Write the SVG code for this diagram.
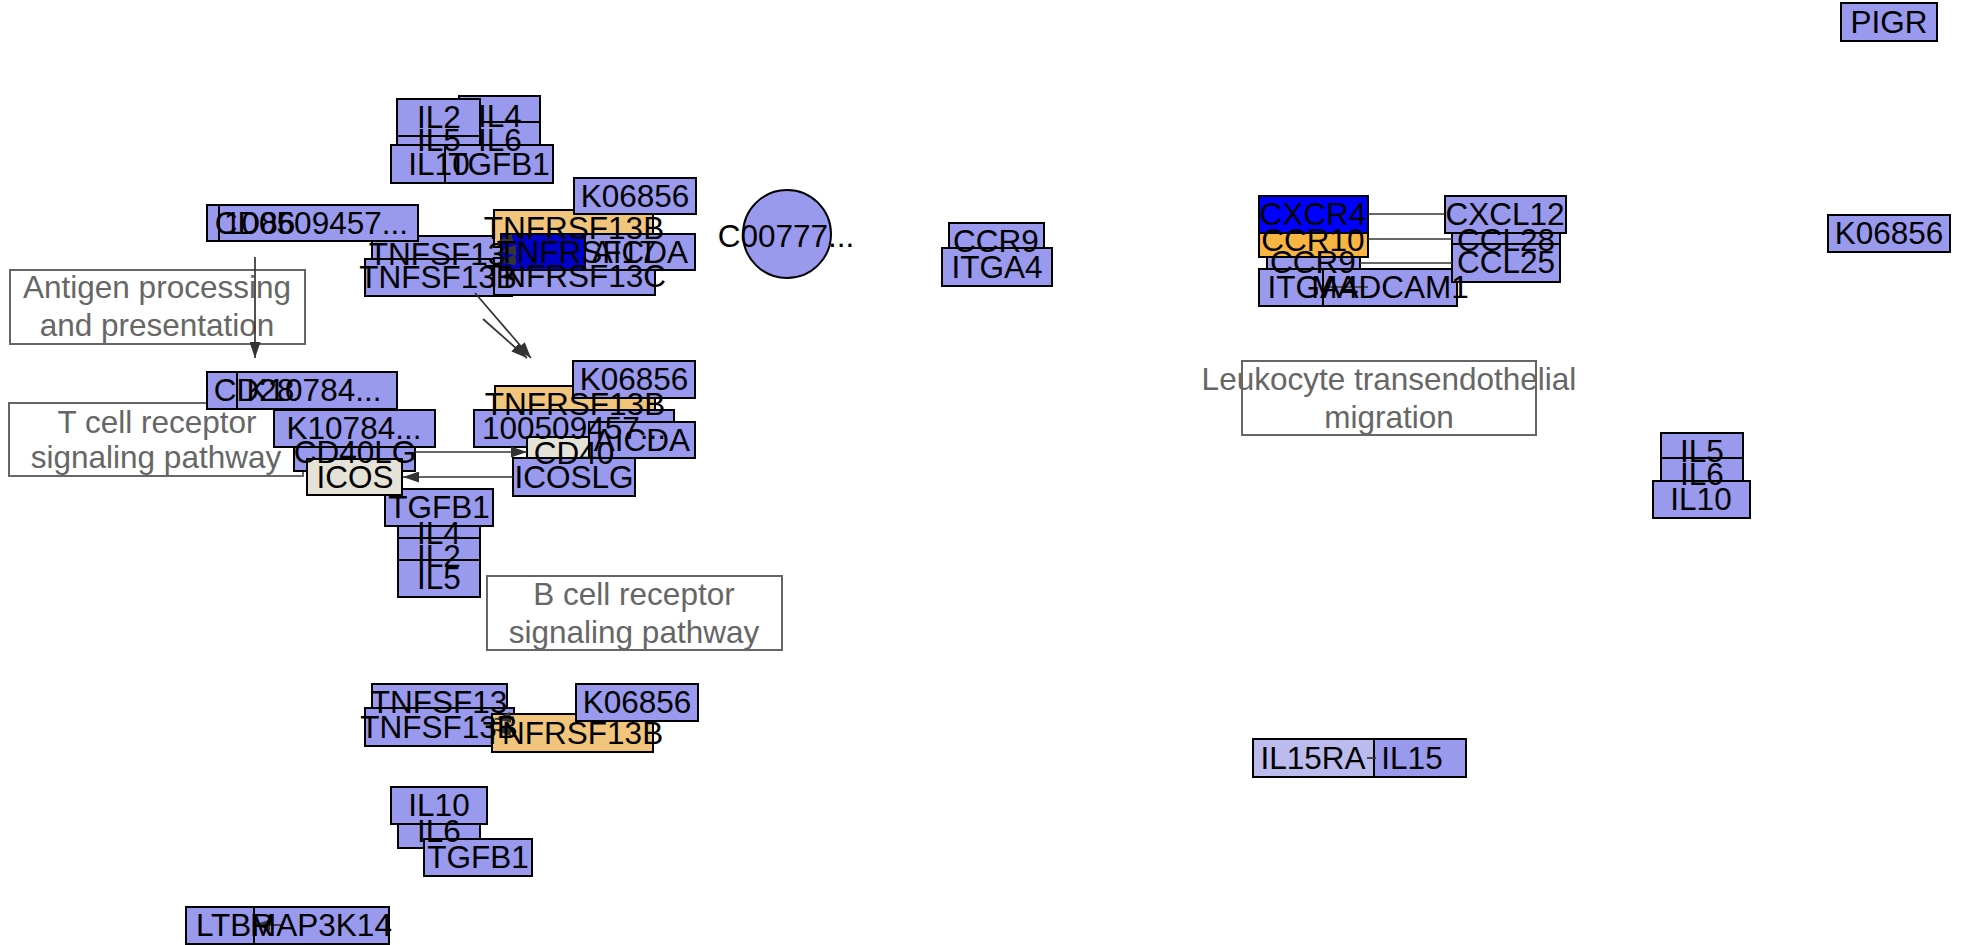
<svg xmlns="http://www.w3.org/2000/svg" width="1963" height="945" viewBox="0 0 1963 945">
<style>
.n{fill:#9999EE;stroke:#000;stroke-width:2}
.o{fill:#F2C57C}
.o2{fill:#F8B542}
.db{fill:#0000C8}
.b{fill:#0000FF}
.g{fill:#E5E2D8}
.lt{fill:#BBBBEE}
.pw{fill:none;stroke:#666;stroke-width:2}
.t{font-family:"Liberation Sans",Arial,sans-serif;font-size:31.5px;text-anchor:middle;fill:#000}
.pt{font-family:"Liberation Sans",Arial,sans-serif;font-size:31.5px;text-anchor:middle;fill:#666}
.e{stroke:#333;stroke-width:1.7;fill:none}
.a{marker-end:url(#arr)}
</style>
<defs>
<marker id="arr" markerUnits="userSpaceOnUse" markerWidth="16" markerHeight="11" refX="16" refY="5.5" orient="auto"><path d="M0,0 L16,5.5 L0,11 Z" fill="#333"/></marker>
</defs>
<rect width="1963" height="945" fill="#fff"/>
<g id="pathways">
<g id="pw-antigen"><rect class="pw" x="10" y="270" width="295" height="74"/><text class="pt" x="157" y="298">Antigen processing</text><text class="pt" x="157" y="336">and presentation</text></g>
<g id="pw-tcell"><rect class="pw" x="9" y="403" width="294" height="73"/><text class="pt" x="157" y="433">T cell receptor</text><text class="pt" x="156" y="468">signaling pathway</text></g>
<g id="pw-bcell"><rect class="pw" x="487" y="576" width="295" height="74"/><text class="pt" x="634" y="605">B cell receptor</text><text class="pt" x="634" y="643">signaling pathway</text></g>
<g id="pw-leuko"><rect class="pw" x="1242" y="361" width="294" height="74"/><text class="pt" x="1389" y="390">Leukocyte transendothelial</text><text class="pt" x="1389" y="428">migration</text></g>
</g>
<g id="nodes">
<g id="n-IL4-a"><rect class="n" x="459" y="96" width="81" height="37"/></g>
<g id="n-IL6-a"><rect class="n" x="459" y="122" width="81" height="37"/></g>
<g id="n-IL5-a"><rect class="n" x="397" y="122" width="83" height="37"/></g>
<g id="n-IL2-a"><rect class="n" x="397" y="99" width="83" height="37"/></g>
<g id="n-IL10-a"><rect class="n" x="391" y="145" width="96" height="38"/></g>
<g id="n-TGFB1-a"><rect class="n" x="445" y="145" width="108" height="38"/></g>
<g id="n-TNFSF13-a"><rect class="n" x="372" y="236" width="130" height="36"/></g>
<g id="n-CD86"><rect class="n" x="207" y="205" width="96" height="36"/></g>
<g id="n-100509457-a"><rect class="n" x="219" y="205" width="199" height="36"/></g>
<g id="n-TNFSF13B-a"><rect class="n" x="365" y="259" width="147" height="37"/></g>
<g id="n-TNFRSF13B-a"><rect class="n o" x="494" y="210" width="159" height="37"/></g>
<g id="n-K06856-a"><rect class="n" x="574" y="178" width="122" height="36"/></g>
<g id="n-TNFRSF13C"><rect class="n" x="494" y="258" width="161" height="37"/></g>
<g id="n-TNFRSF17"><rect class="n db" x="501" y="234" width="152" height="36"/></g>
<g id="n-AICDA-a"><rect class="n" x="585" y="234" width="110" height="36"/></g>
<g id="n-C00777"><circle class="n" cx="787" cy="234" r="44"/></g>
<g id="n-CCR9-a"><rect class="n" x="949" y="223" width="95" height="37"/></g>
<g id="n-ITGA4-a"><rect class="n" x="942" y="248" width="110" height="38"/></g>
<g id="n-CD28"><rect class="n" x="207" y="372" width="95" height="37"/></g>
<g id="n-K10784-a"><rect class="n" x="237" y="372" width="160" height="37"/></g>
<g id="n-CD40LG"><rect class="n" x="294" y="434" width="121" height="37"/></g>
<g id="n-K10784-b"><rect class="n" x="274" y="410" width="161" height="37"/></g>
<g id="n-IL4-b"><rect class="n" x="398" y="514" width="82" height="37"/></g>
<g id="n-IL2-b"><rect class="n" x="398" y="538" width="82" height="37"/></g>
<g id="n-IL5-b"><rect class="n" x="398" y="560" width="82" height="37"/></g>
<g id="n-TGFB1-b"><rect class="n" x="385" y="489" width="108" height="37"/></g>
<g id="n-ICOS"><rect class="n g" x="307" y="459" width="95" height="36"/></g>
<g id="n-TNFRSF13B-b"><rect class="n o" x="495" y="386" width="160" height="37"/></g>
<g id="n-K06856-b"><rect class="n" x="573" y="361" width="122" height="37"/></g>
<g id="n-100509457-b"><rect class="n" x="474" y="410" width="200" height="37"/></g>
<g id="n-CD40"><rect class="n g" x="527" y="437" width="94" height="36"/></g>
<g id="n-AICDA-b"><rect class="n" x="589" y="422" width="106" height="36"/></g>
<g id="n-ICOSLG"><rect class="n" x="513" y="458" width="122" height="38"/></g>
<g id="n-TNFSF13-b"><rect class="n" x="372" y="684" width="135" height="37"/></g>
<g id="n-TNFSF13B-b"><rect class="n" x="365" y="708" width="149" height="38"/></g>
<g id="n-TNFRSF13B-c"><rect class="n o" x="492" y="714" width="161" height="38"/></g>
<g id="n-K06856-c"><rect class="n" x="576" y="684" width="122" height="37"/></g>
<g id="n-IL6-c"><rect class="n" x="398" y="811" width="82" height="37"/></g>
<g id="n-IL10-c"><rect class="n" x="391" y="787" width="96" height="37"/></g>
<g id="n-TGFB1-c"><rect class="n" x="424" y="839" width="108" height="37"/></g>
<g id="n-LTBR"><rect class="n" x="186" y="907" width="100" height="37"/></g>
<g id="n-MAP3K14"><rect class="n" x="254" y="907" width="135" height="37"/></g>
<g id="n-CCR9-b"><rect class="n" x="1267" y="244" width="93" height="37"/></g>
<g id="n-CCR10"><rect class="n o2" x="1259" y="221" width="109" height="36"/></g>
<g id="n-CXCR4"><rect class="n b" x="1259" y="196" width="109" height="37"/></g>
<g id="n-ITGA4-b"><rect class="n" x="1259" y="269" width="109" height="37"/></g>
<g id="n-MADCAM1"><rect class="n" x="1323" y="269" width="134" height="37"/></g>
<g id="n-CCL28"><rect class="n" x="1452" y="221" width="108" height="37"/></g>
<g id="n-CCL25"><rect class="n" x="1452" y="244" width="108" height="38"/></g>
<g id="n-CXCL12"><rect class="n" x="1445" y="196" width="121" height="37"/></g>
<g id="n-PIGR"><rect class="n" x="1841" y="3" width="96" height="38"/></g>
<g id="n-K06856-d"><rect class="n" x="1828" y="215" width="122" height="37"/></g>
<g id="n-IL5-d"><rect class="n" x="1661" y="433" width="82" height="37"/></g>
<g id="n-IL6-d"><rect class="n" x="1661" y="458" width="82" height="37"/></g>
<g id="n-IL10-d"><rect class="n" x="1653" y="481" width="97" height="37"/></g>
<g id="n-IL15"><rect class="n" x="1358" y="739" width="108" height="38"/></g>
<g id="n-IL15RA"><rect class="n lt" x="1253" y="739" width="121" height="38"/></g>
</g>
<g id="connectors">
<line class="e a" x1="255" y1="257" x2="255" y2="358"/>
<line class="e a" x1="513" y1="239" x2="497" y2="242"/>
<line class="e a" x1="516" y1="250" x2="500" y2="251"/>
<line class="e a" x1="516" y1="260" x2="500" y2="262"/>
<line class="e a" x1="514" y1="276" x2="499" y2="277"/>
<line class="e a" x1="475" y1="293" x2="531" y2="358"/>
<line class="e a" x1="483" y1="319" x2="527" y2="358"/>
<line class="e a" x1="415" y1="452" x2="527" y2="452"/>
<line class="e a" x1="513" y1="477" x2="403" y2="477"/>
<line class="e a" x1="514" y1="717" x2="495" y2="719"/>
<line class="e a" x1="516" y1="731" x2="495" y2="730"/>
<line class="e a" x1="281" y1="925" x2="254" y2="925"/>
<line class="e" x1="1368" y1="214" x2="1445" y2="214"/>
<line class="e" x1="1368" y1="239" x2="1452" y2="239"/>
<line class="e" x1="1360" y1="263" x2="1452" y2="263"/>
<line class="e" x1="1323" y1="287" x2="1368" y2="287"/>
<line class="e" x1="1367" y1="758" x2="1376" y2="758"/>
</g>
<g id="labels">
<text class="t" x="439" y="128">IL2</text>
<text class="t" x="500" y="127">IL4</text>
<text class="t" x="439" y="151">IL5</text>
<text class="t" x="500" y="151">IL6</text>
<text class="t" x="439" y="175">IL10</text>
<text class="t" x="499" y="175">TGFB1</text>
<text class="t" x="255" y="234">CD86</text>
<text class="t" x="316" y="234">100509457...</text>
<text class="t" x="437" y="265">TNFSF13</text>
<text class="t" x="438" y="288">TNFSF13B</text>
<text class="t" x="635" y="207">K06856</text>
<text class="t" x="574" y="239">TNFRSF13B</text>
<text class="t" x="577" y="263">TNFRSF17</text>
<text class="t" x="640" y="263">AICDA</text>
<text class="t" x="575" y="287">TNFRSF13C</text>
<text class="t" x="786" y="247">C00777...</text>
<text class="t" x="996" y="252">CCR9</text>
<text class="t" x="997" y="278">ITGA4</text>
<text class="t" x="254" y="401">CD28</text>
<text class="t" x="314" y="401">K10784...</text>
<text class="t" x="354" y="439">K10784...</text>
<text class="t" x="355" y="463">CD40LG</text>
<text class="t" x="355" y="488">ICOS</text>
<text class="t" x="439" y="518">TGFB1</text>
<text class="t" x="439" y="544">IL4</text>
<text class="t" x="439" y="567">IL2</text>
<text class="t" x="439" y="589">IL5</text>
<text class="t" x="634" y="390">K06856</text>
<text class="t" x="575" y="415">TNFRSF13B</text>
<text class="t" x="574" y="439">100509457...</text>
<text class="t" x="642" y="451">AICDA</text>
<text class="t" x="574" y="464">CD40</text>
<text class="t" x="574" y="488">ICOSLG</text>
<text class="t" x="439" y="713">TNFSF13</text>
<text class="t" x="439" y="738">TNFSF13B</text>
<text class="t" x="573" y="744">TNFRSF13B</text>
<text class="t" x="637" y="713">K06856</text>
<text class="t" x="439" y="816">IL10</text>
<text class="t" x="439" y="842">IL6</text>
<text class="t" x="478" y="868">TGFB1</text>
<text class="t" x="235" y="936">LTBR</text>
<text class="t" x="321" y="936">MAP3K14</text>
<text class="t" x="1313" y="225">CXCR4</text>
<text class="t" x="1313" y="251">CCR10</text>
<text class="t" x="1313" y="273">CCR9</text>
<text class="t" x="1313" y="298">ITGA4</text>
<text class="t" x="1390" y="298">MADCAM1</text>
<text class="t" x="1505" y="225">CXCL12</text>
<text class="t" x="1506" y="251">CCL28</text>
<text class="t" x="1506" y="273">CCL25</text>
<text class="t" x="1889" y="33">PIGR</text>
<text class="t" x="1889" y="244">K06856</text>
<text class="t" x="1702" y="462">IL5</text>
<text class="t" x="1702" y="485">IL6</text>
<text class="t" x="1701" y="510">IL10</text>
<text class="t" x="1313" y="769">IL15RA</text>
<text class="t" x="1412" y="769">IL15</text>
</g>
</svg>
